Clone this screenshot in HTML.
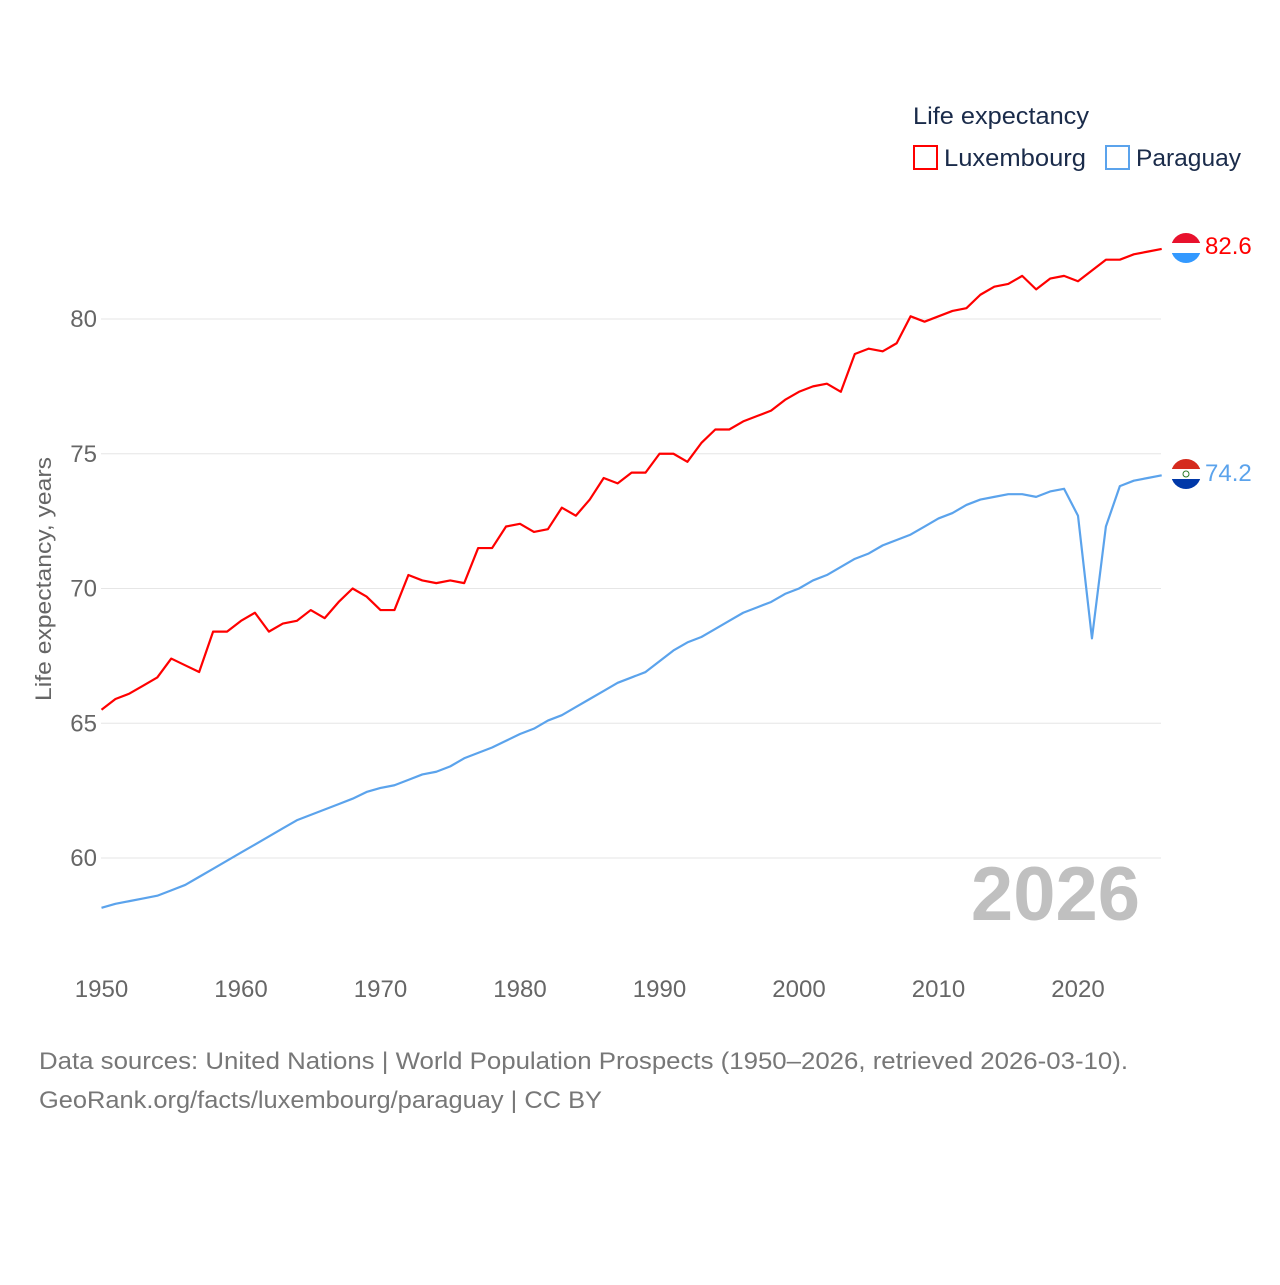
<!DOCTYPE html>
<html><head><meta charset="utf-8">
<style>
html,body{margin:0;padding:0;background:#fff;}
body{width:1280px;height:1280px;overflow:hidden;font-family:"Liberation Sans",sans-serif;}
svg text{font-family:"Liberation Sans",sans-serif;}
</style></head>
<body>
<svg id="chart" width="1280" height="1280" xmlns="http://www.w3.org/2000/svg">
  <text x="913" y="124" font-size="24" fill="#1a2b4a" textLength="176" lengthAdjust="spacingAndGlyphs">Life expectancy</text>
  <g>
    <rect x="914" y="146" width="23" height="23" fill="none" stroke="#ff0000" stroke-width="2"/>
    <text x="944" y="166" font-size="24" fill="#1a2b4a" textLength="142" lengthAdjust="spacingAndGlyphs">Luxembourg</text>
  </g>
  <g>
    <rect x="1106" y="146" width="23" height="23" fill="none" stroke="#5ba3ec" stroke-width="2"/>
    <text x="1136" y="166" font-size="24" fill="#1a2b4a" textLength="105" lengthAdjust="spacingAndGlyphs">Paraguay</text>
  </g>
  <g id="grid"></g>
  <g id="yticks"></g>
  <g id="xticks"></g>
  <text transform="translate(51,579) rotate(-90)" text-anchor="middle" font-size="22" fill="#666" textLength="244" lengthAdjust="spacingAndGlyphs">Life expectancy, years</text>
  <text x="1140" y="920" text-anchor="end" font-size="76" font-weight="bold" fill="#c0c0c0">2026</text>
  <g id="series"></g>
  <g>
    <clipPath id="c1"><circle cx="1186" cy="248" r="15"/></clipPath>
    <g clip-path="url(#c1)"><rect x="1171" y="233" width="30" height="10" fill="#e8112d"/><rect x="1171" y="243" width="30" height="10" fill="#fff"/><rect x="1171" y="253" width="30" height="10" fill="#3399ff"/></g>
  </g>
  <g>
    <clipPath id="c2"><circle cx="1186" cy="474" r="15"/></clipPath>
    <g clip-path="url(#c2)"><rect x="1171" y="459" width="30" height="10" fill="#d52b1e"/><rect x="1171" y="469" width="30" height="10" fill="#fff"/><rect x="1171" y="479" width="30" height="10" fill="#0038a8"/><circle cx="1186" cy="474" r="3" fill="none" stroke="#2a7a2a" stroke-width="1"/></g>
  </g>
  <text id="lblLux" x="1205" y="254" font-size="24" fill="#ff0000"></text>
  <text id="lblPar" x="1205" y="481" font-size="24" fill="#5ba3ec"></text>
  <text x="39" y="1069" font-size="24" fill="#777" textLength="1089" lengthAdjust="spacingAndGlyphs">Data sources: United Nations | World Population Prospects (1950–2026, retrieved 2026-03-10).</text>
  <text x="39" y="1108" font-size="24" fill="#777" textLength="563" lengthAdjust="spacingAndGlyphs">GeoRank.org/facts/luxembourg/paraguay | CC BY</text>
</svg>
<script>
const startYear = 1950;
const luxembourg = [65.5,65.9,66.1,66.4,66.7,67.4,67.15,66.9,68.4,68.4,68.8,69.1,68.4,68.7,68.8,69.2,68.9,69.5,70.0,69.7,69.2,69.2,70.5,70.3,70.2,70.3,70.2,71.5,71.5,72.3,72.4,72.1,72.2,73.0,72.7,73.3,74.1,73.9,74.3,74.3,75.0,75.0,74.7,75.4,75.9,75.9,76.2,76.4,76.6,77.0,77.3,77.5,77.6,77.3,78.7,78.9,78.8,79.1,80.1,79.9,80.1,80.3,80.4,80.9,81.2,81.3,81.6,81.1,81.5,81.6,81.4,81.8,82.2,82.2,82.4,82.5,82.6];
const paraguay = [58.15,58.3,58.4,58.5,58.6,58.8,59.0,59.3,59.6,59.9,60.2,60.5,60.8,61.1,61.4,61.6,61.8,62.0,62.2,62.45,62.6,62.7,62.9,63.1,63.2,63.4,63.7,63.9,64.1,64.35,64.6,64.8,65.1,65.3,65.6,65.9,66.2,66.5,66.7,66.9,67.3,67.7,68.0,68.2,68.5,68.8,69.1,69.3,69.5,69.8,70.0,70.3,70.5,70.8,71.1,71.3,71.6,71.8,72.0,72.3,72.6,72.8,73.1,73.3,73.4,73.5,73.5,73.4,73.6,73.7,72.7,68.15,72.3,73.8,74.0,74.1,74.2];
const yTicks = [60,65,70,75,80];
const xTicks = [1950,1960,1970,1980,1990,2000,2010,2020];

const NS = "http://www.w3.org/2000/svg";
function xScale(yr){ return 101.5 + (yr - 1950) * 13.95; }
function yScale(v){ return 319 + (80 - v) * 26.95; }

const grid = document.getElementById('grid');
const yt = document.getElementById('yticks');
yTicks.forEach(v=>{
  const l = document.createElementNS(NS,'line');
  
  
  l.setAttribute('x1',101); l.setAttribute('x2',1161);
  l.setAttribute('y1',yScale(v)); l.setAttribute('y2',yScale(v));
  l.setAttribute('stroke','#e6e6e6'); l.setAttribute('stroke-width','1');
  grid.appendChild(l);
  const t = document.createElementNS(NS,'text');
  
  
  t.setAttribute('x',97); t.setAttribute('y',yScale(v)+8);
  t.setAttribute('text-anchor','end'); t.setAttribute('font-size','24'); t.setAttribute('fill','#666');
  t.textContent = v;
  yt.appendChild(t);
});
const xt = document.getElementById('xticks');
xTicks.forEach(yr=>{
  const t = document.createElementNS(NS,'text');
  
  
  t.setAttribute('x',xScale(yr)); t.setAttribute('y',997);
  t.setAttribute('text-anchor','middle'); t.setAttribute('font-size','24'); t.setAttribute('fill','#666');
  t.textContent = yr;
  xt.appendChild(t);
});
const series = document.getElementById('series');
function drawLine(arr, color, name){
  const p = document.createElementNS(NS,'polyline');
  
  
  p.setAttribute('points', arr.map((v,i)=>xScale(startYear+i)+','+yScale(v)).join(' '));
  p.setAttribute('fill','none'); p.setAttribute('stroke',color); p.setAttribute('stroke-width','2.2');
  p.setAttribute('stroke-linejoin','round');
  series.appendChild(p);
}
drawLine(paraguay,'#5ba3ec','line-paraguay');
drawLine(luxembourg,'#ff0000','line-luxembourg');
document.getElementById('lblLux').textContent = luxembourg[luxembourg.length-1].toFixed(1);
document.getElementById('lblPar').textContent = paraguay[paraguay.length-1].toFixed(1);
</script>
</body></html>
